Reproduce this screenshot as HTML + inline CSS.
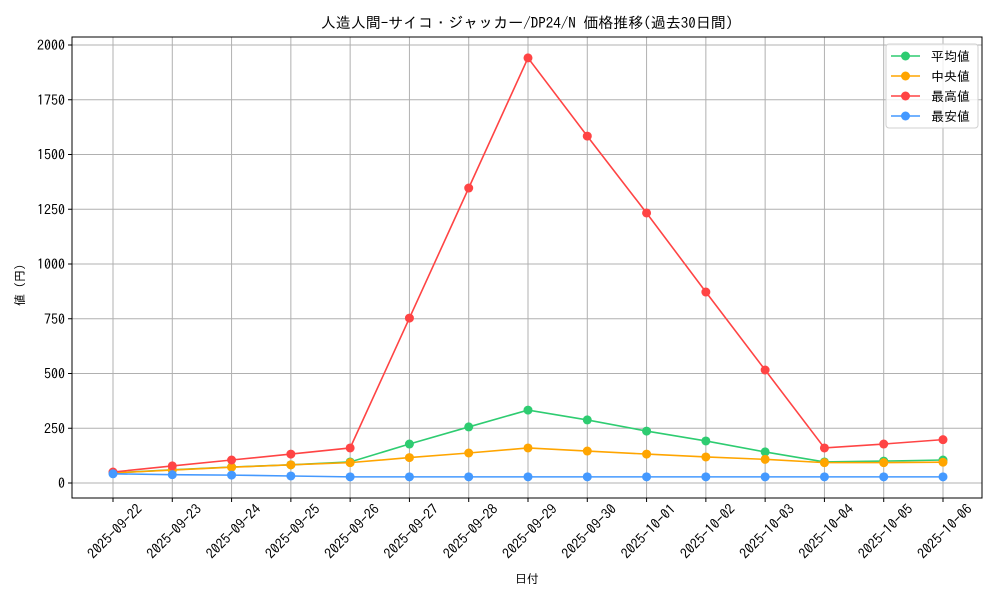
<!DOCTYPE html>
<html><head><meta charset="utf-8"><style>
body{margin:0;background:#fff}
svg text{font-family:"IPAGothic","Liberation Sans","Noto Sans CJK JP",sans-serif;fill:#000}
</style></head><body>
<svg id="c" width="1000" height="600" viewBox="0 0 1000 600">
<text x="527" y="28" font-size="15" text-anchor="middle">人造人間-サイコ・ジャッカー/DP24/N 価格推移(過去30日間)</text>
<g id="grid"></g>
<g id="axes"></g>
<g id="series"></g>
<text x="527" y="583" font-size="12" text-anchor="middle">日付</text>
<text transform="translate(24,285) rotate(-90)" font-size="12" text-anchor="middle">値 (円)</text>
<g id="legend"></g>
</svg>
<script>
const categories=["2025-09-22","2025-09-23","2025-09-24","2025-09-25","2025-09-26","2025-09-27","2025-09-28","2025-09-29","2025-09-30","2025-10-01","2025-10-02","2025-10-03","2025-10-04","2025-10-05","2025-10-06"];
const avgValues=[46,60,73,83,96,178,256,333,288,237,192,142,96,100,105];
const medianValues=[46,59,72,83,93,116,137,160,146,132,119,108,93,93,95];
const maxValues=[50,78,105,132,160,753,1347,1941,1584,1233,872,516,160,178,198];
const minValues=[42,38,36,32,28,28,28,28,28,28,28,28,28,28,28];
const yTicks=[0,250,500,750,1000,1250,1500,1750,2000];
const seriesNames=["平均値","中央値","最高値","最安値"];
const seriesColors=["#2ecc71","#ffa500","#ff4444","#4499ff"];
const NS="http://www.w3.org/2000/svg";
const L=72,R=982,T=37,B=498;
const x=i=>113+i*(943-113)/(categories.length-1);
const y=v=>483-v*(483-45)/2000;
function mk(tag,attrs,parent){const e=document.createElementNS(NS,tag);for(const k in attrs)e.setAttribute(k,attrs[k]);parent.appendChild(e);return e;}
const grid=document.getElementById('grid'),axes=document.getElementById('axes'),ser=document.getElementById('series'),leg=document.getElementById('legend');
categories.forEach((c,i)=>{
  const g=mk('line',{x1:x(i),x2:x(i),y1:T,y2:B,stroke:'#b0b0b0','stroke-width':1},grid);
  
  
  mk('line',{x1:x(i),x2:x(i),y1:B,y2:B+4,stroke:'#000'},axes);
  const t=mk('text',{x:0,y:0,'font-size':14,'text-anchor':'end',transform:`translate(${x(i)+30},${B+12}) rotate(-45)`},axes);
  t.textContent=c;
  
  
});
yTicks.forEach(v=>{
  const g=mk('line',{x1:L,x2:R,y1:y(v),y2:y(v),stroke:'#b0b0b0','stroke-width':1},grid);
  
  
  mk('line',{x1:L-4,x2:L,y1:y(v),y2:y(v),stroke:'#000'},axes);
  const t=mk('text',{x:L-7,y:y(v)+5,'font-size':14,'text-anchor':'end'},axes);
  t.textContent=v;
  
  
});
const fr=mk('rect',{x:L,y:T,width:R-L,height:B-T,fill:'none',stroke:'#000','stroke-width':1},axes);


const data=[avgValues,medianValues,maxValues,minValues];
const keys=['avg','median','max','min'];
data.forEach((vals,s)=>{
  const g=mk('g',{},ser);
  
  
  const p=mk('polyline',{points:vals.map((v,i)=>x(i)+','+y(v)).join(' '),fill:'none',stroke:seriesColors[s],'stroke-width':1.6},g);
  
  
  vals.forEach((v,i)=>{
    const c=mk('circle',{cx:x(i),cy:y(v),r:4.5,fill:seriesColors[s]},g);
    
    
  });
});
const lb=mk('rect',{x:886,y:44,width:92,height:84,rx:3,fill:'#fff','fill-opacity':0.8,stroke:'#d0d0d0'},leg);


seriesNames.forEach((n,s)=>{
  const yy=56+s*20;
  const g=mk('g',{},leg);
  
  
  mk('line',{x1:891,x2:920,y1:yy,y2:yy,stroke:seriesColors[s],'stroke-width':1.6},g);
  mk('circle',{cx:905.5,cy:yy,r:4.5,fill:seriesColors[s]},g);
  const t=mk('text',{x:931,y:yy+5,'font-size':13},g);
  t.textContent=n;
});
</script>
</body></html>
